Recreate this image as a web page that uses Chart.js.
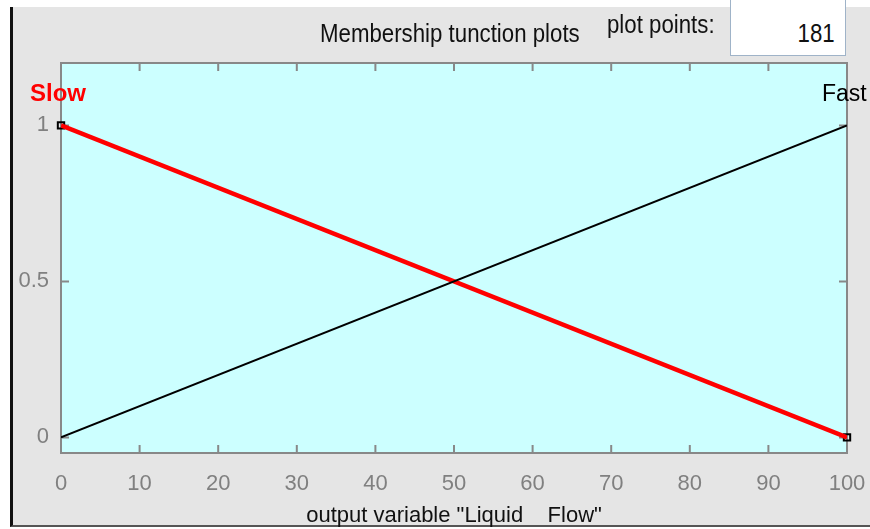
<!DOCTYPE html>
<html>
<head>
<meta charset="utf-8">
<script src="https://cdn.jsdelivr.net/npm/chart.js@4/dist/chart.umd.min.js"></script>
<style>
    html, body { margin: 0; padding: 0; }
    body { width: 870px; height: 529px; background: #fff; position: relative; overflow: hidden;
           font-family: "Liberation Sans", Arial, sans-serif; }
    #panel { position: absolute; left: 10px; top: 7px; width: 860px; height: 520px; background: #e5e5e5;
             border-left: 3px solid #111; border-bottom: 2px solid #555; box-sizing: border-box; }
    #chart-wrap { position: absolute; left: 0; top: 0; width: 870px; height: 529px; z-index: 1; }
    .lbl { position: absolute; white-space: nowrap; line-height: 1; z-index: 2; }
    .narrow { transform: scaleX(0.89); transform-origin: left center; }
    #title { left: 320px; top: 21px; font-size: 25px; color: #111; }
    #pp { left: 607px; top: 12px; font-size: 25px; color: #111; }
    #ppbox { position: absolute; left: 730px; top: 0; width: 116px; height: 56px; background: #fff;
             border: 1px solid #9fb3c8; border-top: none; box-sizing: border-box; z-index: 2; }
    #ppval { right: 10px; top: 21px; font-size: 25px; color: #111; transform: scaleX(0.89); transform-origin: right center; }
    #slow { left: 30px; top: 81px; font-size: 24px; font-weight: bold; color: #ff0000; }
    #fast { left: 822px; top: 82px; font-size: 23px; color: #000; }
</style>
</head>
<body>
<div id="panel"></div>
<div id="chart-wrap"><canvas id="c" width="870" height="529"></canvas></div>
<div id="ppbox"><span class="lbl" id="ppval">181</span></div>
<div class="lbl narrow" id="title">Membership tunction plots</div>
<div class="lbl narrow" id="pp">plot points:</div>
<div class="lbl" id="slow">Slow</div>
<div class="lbl" id="fast">Fast</div>
<script>
const X_VALUES    = [0, 100];
const SLOW_VALUES = [1, 0];
const FAST_VALUES = [0, 1];
const X_TICKS     = [0, 10, 20, 30, 40, 50, 60, 70, 80, 90, 100];
const Y_TICKS     = [0, 0.5, 1];
const X_TITLE     = 'output variable "Liquid    Flow"';

const FONT = 'Liberation Sans';

const pts = vals => X_VALUES.map((x, i) => ({ x, y: vals[i] }));

// cyan plot background, grey frame and inward ticks
const framePlugin = {
    id: 'frame',
    beforeDatasetsDraw(chart) {
        const { ctx, chartArea: a, scales } = chart;
        ctx.save();
        ctx.fillStyle = '#ccffff';
        ctx.fillRect(a.left, a.top, a.right - a.left, a.bottom - a.top);
        ctx.strokeStyle = '#888';
        ctx.lineWidth = 2;
        ctx.beginPath();
        X_TICKS.forEach(v => {
            const px = scales.x.getPixelForValue(v);
            ctx.moveTo(px, a.bottom); ctx.lineTo(px, a.bottom - 8);
            ctx.moveTo(px, a.top);    ctx.lineTo(px, a.top + 8);
        });
        Y_TICKS.forEach(v => {
            const py = scales.y.getPixelForValue(v);
            ctx.moveTo(a.left, py);  ctx.lineTo(a.left + 8, py);
            ctx.moveTo(a.right, py); ctx.lineTo(a.right - 8, py);
        });
        ctx.stroke();
        ctx.strokeRect(a.left, a.top, a.right - a.left, a.bottom - a.top);
        ctx.restore();
    }
};

new Chart(document.getElementById('c'), {
    type: 'scatter',
    data: {
        datasets: [
            { data: pts(FAST_VALUES), showLine: true, borderColor: '#000', borderWidth: 2, pointRadius: 0 },
            { data: pts(SLOW_VALUES), showLine: true, borderColor: '#ff0000', borderWidth: 4.5, pointRadius: 0 },
            { data: pts(SLOW_VALUES), showLine: false, clip: false, pointStyle: 'rect', pointRadius: 4.5,
              pointBorderColor: '#000', pointBackgroundColor: 'rgba(0,0,0,0)', pointBorderWidth: 2 }
        ]
    },
    options: {
        responsive: false,
        animation: false,
        layout: { padding: { left: 0, top: 63, right: 23, bottom: 0 } },
        plugins: { legend: { display: false }, tooltip: { enabled: false } },
        scales: {
            x: {
                type: 'linear', min: 0, max: 100,
                afterBuildTicks: s => { s.ticks = X_TICKS.map(v => ({ value: v })); },
                afterFit: s => { s.height = 76; s.paddingLeft = 0; s.paddingRight = 0; },
                grid: { display: false, drawTicks: false },
                border: { display: false },
                ticks: { color: '#808080', padding: 18, maxRotation: 0,
                         font: { family: FONT, size: 22 } },
                title: { display: true, text: X_TITLE, color: '#111', padding: { top: 5, bottom: 0 },
                         font: { family: FONT, size: 22 } }
            },
            y: {
                type: 'linear', min: -0.05, max: 1.2,
                afterBuildTicks: s => { s.ticks = Y_TICKS.map(v => ({ value: v })); },
                afterFit: s => { s.width = 61; s.paddingTop = 0; s.paddingBottom = 0; },
                grid: { display: false, drawTicks: false },
                border: { display: false },
                ticks: { color: '#808080', padding: 12, callback: v => String(v),
                         font: { family: FONT, size: 22 } }
            }
        }
    },
    plugins: [framePlugin]
});
</script>
</body>
</html>
